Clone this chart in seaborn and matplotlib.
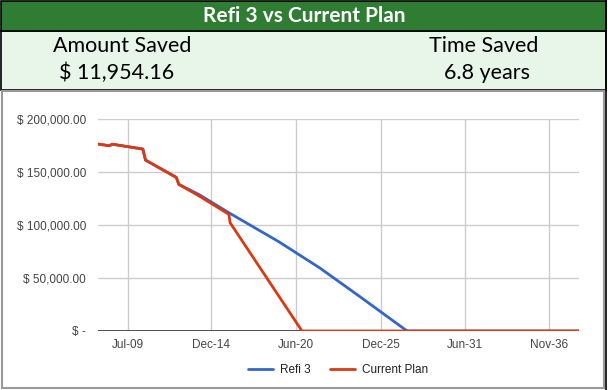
import matplotlib
matplotlib.use('Agg')
import matplotlib.pyplot as plt
from matplotlib.patches import Rectangle
from matplotlib.lines import Line2D
from matplotlib.ticker import FuncFormatter
import numpy as np
import pandas as pd
import seaborn as sns


# balance (dates where the line bends)
refi_dates = ['2007-08-01', '2008-05-01', '2008-07-01', '2010-07-01', '2010-09-01',
              '2012-09-01', '2012-11-01', '2014-03-01', '2016-02-01', '2019-05-01',
              '2022-01-01', '2024-08-01', '2027-09-01', '2038-11-01']
refi_balance = [176100, 174500, 176000, 171400, 161000,
                144700, 138100, 128400, 111400, 84100,
                59300, 32500, 0, 0]

current_dates = ['2007-08-01', '2008-05-01', '2008-07-01', '2010-07-01', '2010-09-01',
                 '2012-09-01', '2012-11-01', '2014-03-01', '2016-02-01', '2016-03-01',
                 '2020-11-01', '2038-11-01']
current_balance = [176100, 174500, 176000, 171400, 161000,
                   144700, 138100, 127100, 109900, 102000,
                   0, 0]

series_names = ['Refi 3', 'Current Plan']
tick_dates = ['2009-07-15', '2014-12-15', '2020-06-15', '2025-12-15', '2031-06-15', '2036-11-15']
tick_labels = ['Jul-09', 'Dec-14', 'Jun-20', 'Dec-25', 'Jun-31', 'Nov-36']

title = 'Refi 3 vs Current Plan'
amount_saved = '$ 11,954.16'
time_saved = '6.8 years'

W, H = 608, 390
BLUE, RED = '#3366cc', '#dc3912'


def fx(x): return x / W
def fy(y): return 1 - y / H


def money(v, pos=None):
    if v == 0:
        return '$ -'
    return f'$ {v:,.2f}'


def main():
    sns.set_theme(style='white')
    plt.rcParams['font.family'] = ['Liberation Sans', 'DejaVu Sans']

    df = pd.concat([
        pd.DataFrame({'date': pd.to_datetime(refi_dates), 'balance': refi_balance, 'plan': series_names[0]}),
        pd.DataFrame({'date': pd.to_datetime(current_dates), 'balance': current_balance, 'plan': series_names[1]}),
    ], ignore_index=True)

    fig = plt.figure(figsize=(W / 100, H / 100), dpi=100)
    fig.patch.set_facecolor('white')

    # header blocks + chart frame (behind the axes)
    fig.patches.append(Rectangle((fx(0.5), fy(90)), fx(605.5), fy(31) - fy(90), transform=fig.transFigure,
                                 facecolor='#e8f5e9', edgecolor='black', linewidth=1.2, zorder=-5))
    fig.patches.append(Rectangle((fx(0.5), fy(31)), fx(605.5), fy(0.5) - fy(31), transform=fig.transFigure,
                                 facecolor='#2e7d32', edgecolor='black', linewidth=1.2, zorder=-5))
    fig.patches.append(Rectangle((fx(1.5), fy(388)), fx(603.5) - fx(1.5), fy(91) - fy(388), transform=fig.transFigure,
                                 facecolor='white', edgecolor='#999999', linewidth=1.5, zorder=-5))
    fig.add_artist(Line2D([fx(606), fx(606)], [fy(0), fy(390)], transform=fig.transFigure,
                          color='black', linewidth=1.2, zorder=-4))

    hfont = ['Lato', 'DejaVu Sans']
    fig.text(fx(304), fy(16), title, ha='center', va='center', color='white',
             fontsize=15, fontweight='bold', family=hfont)
    for x, y, s in [(122, 46, 'Amount Saved'), (117, 73, amount_saved),
                    (484, 46, 'Time Saved'), (487, 73, time_saved)]:
        fig.text(fx(x), fy(y), s, ha='center', va='center', fontsize=15.5,
                 color='black', family=hfont)

    ax = fig.add_axes([fx(98), fy(331), fx(579) - fx(98), fy(118.7) - fy(331)])
    ax.set_facecolor('none')

    sns.lineplot(data=df, x='date', y='balance', hue='plan', hue_order=series_names,
                 palette=[BLUE, RED], linewidth=2, ax=ax, legend=False, zorder=3)

    ax.set_xlim(pd.Timestamp(refi_dates[0]), pd.Timestamp(refi_dates[-1]))
    ax.set_ylim(0, 200000)
    ax.set_yticks(np.arange(0, 200001, 50000))
    ax.yaxis.set_major_formatter(FuncFormatter(money))
    ax.set_xticks(pd.to_datetime(tick_dates))
    ax.set_xticklabels(tick_labels)
    ax.grid(True, color='#cccccc', linewidth=1)
    ax.axhline(0, color='#333333', linewidth=1.2, zorder=2)
    for s in ax.spines.values():
        s.set_visible(False)
    ax.tick_params(axis='both', length=0, labelsize=8.5, colors='#444444')
    ax.tick_params(axis='y', pad=8.5)
    ax.tick_params(axis='x', pad=6)
    ax.set_xlabel('')
    ax.set_ylabel('')

    handles = [Line2D([], [], color=BLUE, linewidth=2), Line2D([], [], color=RED, linewidth=2)]
    fig.legend(handles, series_names, loc='center', bbox_to_anchor=(fx(338), fy(370)),
               ncol=2, frameon=False, fontsize=8.5, handlelength=2.1, handletextpad=0.55,
               columnspacing=1.7, labelcolor='#222222')

    fig.savefig('out.png', dpi=100)
    plt.close(fig)


if __name__ == '__main__':
    main()
